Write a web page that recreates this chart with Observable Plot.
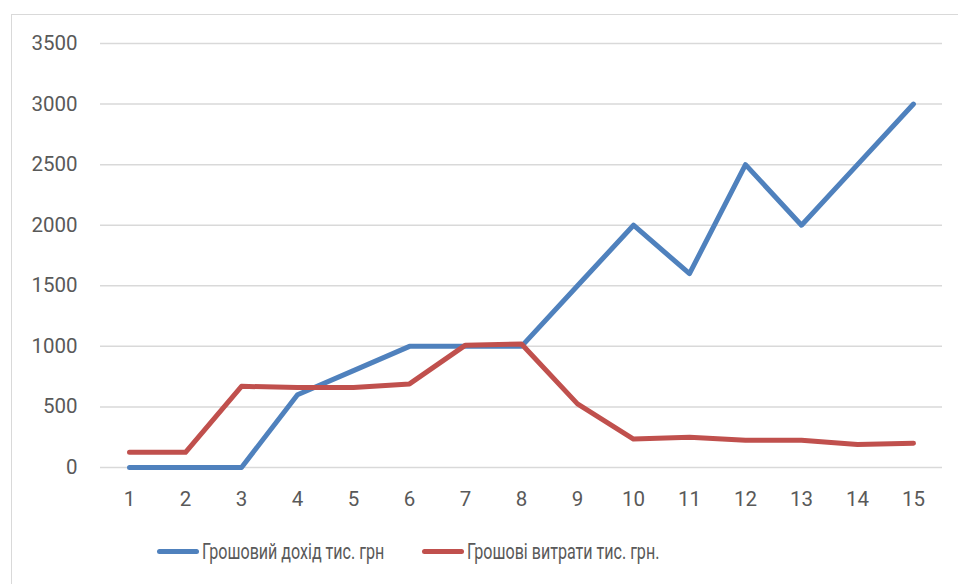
<!DOCTYPE html>
<html>
<head>
<meta charset="utf-8">
<script src="https://cdn.jsdelivr.net/npm/d3@7"></script>
<script src="https://cdn.jsdelivr.net/npm/@observablehq/plot@0.6"></script>
<style>
  html, body { margin: 0; padding: 0; background: #fff; }
  #wrap { position: relative; width: 958px; height: 584px; overflow: hidden; font-family: "Roboto", "Liberation Sans", sans-serif; }
  #frame { position: absolute; left: 11px; top: 14px; width: 960px; height: 600px; border-left: 1.5px solid #d9d9d9; border-top: 1.5px solid #d9d9d9; }
  #chart { position: absolute; left: 0; top: 0; }
  #legend { position: absolute; left: 0; top: 536px; width: 958px; height: 30px; font-size: 22px; color: #595959; }
  .item { position: absolute; top: 0; height: 30px; display: flex; align-items: center; white-space: nowrap; }
  .sw { display: inline-block; width: 42px; height: 5px; border-radius: 3px; margin-right: 3px; flex: none; }
  .lbl { display: inline-block; transform: scaleX(0.73); transform-origin: left center; }
</style>
</head>
<body>
<div id="wrap">
  <div id="frame"></div>
  <div id="chart"></div>
  <div id="legend"></div>
</div>
<script>
const periods = [1, 2, 3, 4, 5, 6, 7, 8, 9, 10, 11, 12, 13, 14, 15];
const income = [0, 0, 0, 600, 800, 1000, 1000, 1000, 1500, 2000, 1600, 2500, 2000, 2500, 3000];
const expenses = [125, 125, 670, 660, 660, 690, 1010, 1020, 525, 235, 250, 225, 225, 190, 200];
const yTicks = [0, 500, 1000, 1500, 2000, 2500, 3000, 3500];
const seriesNames = ["Грошовий дохід тис. грн", "Грошові витрати тис. грн."];
const seriesColors = ["#4f81bd", "#c0504d"];

const rows = [];
periods.forEach((p, i) => {
  rows.push({period: p, value: income[i], series: seriesNames[0]});
  rows.push({period: p, value: expenses[i], series: seriesNames[1]});
});

const chart = Plot.plot({
  width: 958,
  height: 520,
  marginLeft: 100,
  marginRight: 16,
  marginTop: 43,
  marginBottom: 53,
  style: {fontFamily: '"Roboto", "Liberation Sans", sans-serif', fontSize: "20.5px", color: "#595959", background: "transparent"},
  x: {type: "point", domain: periods, padding: 0.5},
  y: {domain: [0, 3500]},
  color: {domain: seriesNames, range: seriesColors},
  marks: [
    Plot.gridY(yTicks, {stroke: "#d9d9d9", strokeOpacity: 1, strokeWidth: 1.5}),
    Plot.axisY(yTicks, {tickSize: 0, tickPadding: 23, label: null, fill: "#595959", tickFormat: d => String(d)}),
    Plot.axisX(periods, {tickSize: 0, tickPadding: 24, label: null, fill: "#595959", tickFormat: d => String(d)}),
    Plot.line(rows, {x: "period", y: "value", z: "series", stroke: "series", strokeWidth: 5, strokeLinecap: "round", strokeLinejoin: "round"})
  ]
});
document.getElementById("chart").appendChild(chart);

const legend = document.getElementById("legend");
const lefts = [157, 422];
seriesNames.forEach((name, i) => {
  const item = document.createElement("div");
  item.className = "item";
  item.style.left = lefts[i] + "px";
  const sw = document.createElement("span");
  sw.className = "sw";
  sw.style.background = seriesColors[i];
  const t = document.createElement("span");
  t.className = "lbl";
  t.textContent = name;
  item.appendChild(sw);
  item.appendChild(t);
  legend.appendChild(item);
});
</script>
</body>
</html>
